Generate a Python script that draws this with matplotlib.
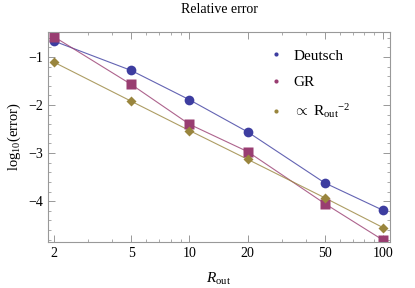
import matplotlib
matplotlib.use("Agg")
import matplotlib.pyplot as plt
from matplotlib.lines import Line2D
from matplotlib.ticker import FixedLocator, NullFormatter, MultipleLocator
import numpy as np

plt.rcParams["font.family"] = ["Liberation Serif", "DejaVu Serif"]
plt.rcParams["mathtext.fontset"] = "custom"
plt.rcParams["mathtext.rm"] = "Liberation Serif"
plt.rcParams["mathtext.it"] = "Liberation Serif:italic"

r_out = [2, 5, 10, 20, 50, 100]
deutsch = [-0.67, -1.28, -1.89, -2.56, -3.62, -4.19]
gr = [-0.58, -1.57, -2.40, -2.97, -4.05, -4.81]
prop = [-1.11, -1.92, -2.53, -3.13, -3.93, -4.55]

x_ticks = [2, 5, 10, 20, 50, 100]
y_ticks = [-1, -2, -3, -4]

c_blue = "#3d3da0"
c_red = "#993d71"
c_gold = "#99853d"

fig = plt.figure(figsize=(4.15, 2.88), dpi=100)
ax = fig.add_axes([0.1157, 0.1597, 0.8241, 0.7292])

ax.plot(r_out, deutsch, color=c_blue, lw=0.8, alpha=0.8)
ax.plot(r_out, gr, color=c_red, lw=0.8, alpha=0.8)
ax.plot(r_out, prop, color=c_gold, lw=0.8, alpha=0.8)
ax.plot(r_out, deutsch, "o", color=c_blue, ms=7, mec="none")
ax.plot(r_out, gr, "s", color=c_red, ms=6.5, mec="none")
ax.plot(r_out, prop, "D", color=c_gold, ms=5.5, mec="none")

ax.set_xscale("log")
ax.set_xlim(1.86, 108.7)
ax.set_ylim(-4.85, -0.48)
ax.xaxis.set_major_locator(FixedLocator(x_ticks))
ax.set_xticklabels([str(t) for t in x_ticks])
minor = [3, 4, 6, 7, 8, 9, 30, 40, 60, 70, 80, 90]
ax.xaxis.set_minor_locator(FixedLocator(minor))
ax.xaxis.set_minor_formatter(NullFormatter())
ax.yaxis.set_major_locator(FixedLocator(y_ticks))
ax.set_yticklabels(["\u22121", "\u22122", "\u22123", "\u22124"])
ax.yaxis.set_minor_locator(MultipleLocator(0.2))

ax.tick_params(which="both", direction="in", top=True, right=True,
               colors="#888888", labelcolor="black", labelsize=10)
ax.tick_params(which="major", length=5, width=0.6)
ax.tick_params(which="minor", length=2.5, width=0.5)
for s in ax.spines.values():
    s.set_color("#999999")
    s.set_linewidth(0.8)

ax.set_title("Relative error", fontsize=10, pad=14)
ax.set_xlabel(r"$R_{\mathrm{out}}$", fontsize=11, labelpad=8)
ax.set_ylabel(r"log$_{10}$(error)", fontsize=10.5, labelpad=4)

handles = [
    Line2D([], [], ls="none", marker="o", ms=3, color=c_blue, mec="none"),
    Line2D([], [], ls="none", marker="o", ms=3, color=c_red, mec="none"),
    Line2D([], [], ls="none", marker="o", ms=3, color=c_gold, mec="none"),
]
labels = ["Deutsch", "GR", r"$\propto$ R$_{\mathrm{out}}$$^{-2}$"]
ax.legend(handles, labels, loc="upper left", bbox_to_anchor=(0.605, 0.985),
          frameon=False, fontsize=11, handlelength=1.0, handletextpad=0.6,
          labelspacing=0.85)

fig.savefig("out.png", dpi=100)
